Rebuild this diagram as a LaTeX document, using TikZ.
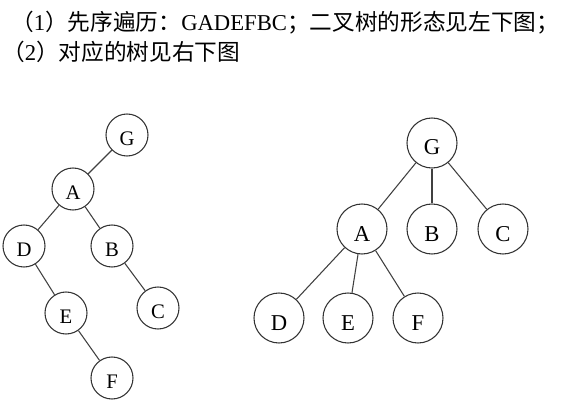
\documentclass[tikz,border=0pt]{standalone}
\usepackage{fontspec}
\setmainfont{Liberation Serif}
\newfontfamily\cjk{Noto Sans CJK SC}
\usepackage{tikz}

\begin{document}
\begin{tikzpicture}[x=0.75pt, y=-0.75pt,
	binnode/.style={draw=black!80, circle, line width=0.8pt, inner sep=0pt,
		minimum size=31.5pt, text height=16pt, text depth=0pt,
		font=\fontsize{15.5}{15.5}\selectfont},
	treenode/.style={draw=black!80, circle, line width=0.8pt, inner sep=0pt,
		minimum size=37.5pt, text height=18pt, text depth=0pt,
		font=\fontsize{17}{17}\selectfont},
	edge/.style={draw=black!75, line width=0.8pt}]
	\def \txtsize {\fontsize{17}{20}\selectfont}
	\useasboundingbox (0,0) rectangle (574,406);

	% two lines of text
	\node[anchor=base west, inner sep=0pt, font=\txtsize] (lineone) at (11,30.5)
		{{\cjk （}1{\cjk ）先序遍历：}GADEFBC{\cjk ；二叉树的形态见左下图；}};
	\node[anchor=base west, inner sep=0pt, font=\txtsize] (linetwo) at (2,61)
		{{\cjk （}2{\cjk ）对应的树见右下图}};

	% binary tree, left
	\node[binnode] (binG) at (127,135) {G};
	\node[binnode] (binA) at (73,189)  {A};
	\node[binnode] (binD) at (24,246)  {D};
	\node[binnode] (binB) at (112,246) {B};
	\node[binnode] (binE) at (66,313)  {E};
	\node[binnode] (binC) at (158,308) {C};
	\node[binnode] (binF) at (112,378) {F};

	\draw[edge] (binG) -- (binA);
	\draw[edge] (binA) -- (binD);
	\draw[edge] (binA) -- (binB);
	\draw[edge] (binD) -- (binE);
	\draw[edge] (binB) -- (binC);
	\draw[edge] (binE) -- (binF);

	% tree, right
	\node[treenode] (treeG) at (432,143) {G};
	\node[treenode] (treeA) at (362,229) {A};
	\node[treenode] (treeB) at (432,229) {B};
	\node[treenode] (treeC) at (503,229) {C};
	\node[treenode] (treeD) at (279,318) {D};
	\node[treenode] (treeE) at (348,318) {E};
	\node[treenode] (treeF) at (418,318) {F};

	\draw[edge] (treeG) -- (treeA);
	\draw[edge] (treeG) -- (treeB);
	\draw[edge] (treeG) -- (treeC);
	\draw[edge] (treeA) -- (treeD);
	\draw[edge] (treeA) -- (treeE);
	\draw[edge] (treeA) -- (treeF);
\end{tikzpicture}
\end{document}
